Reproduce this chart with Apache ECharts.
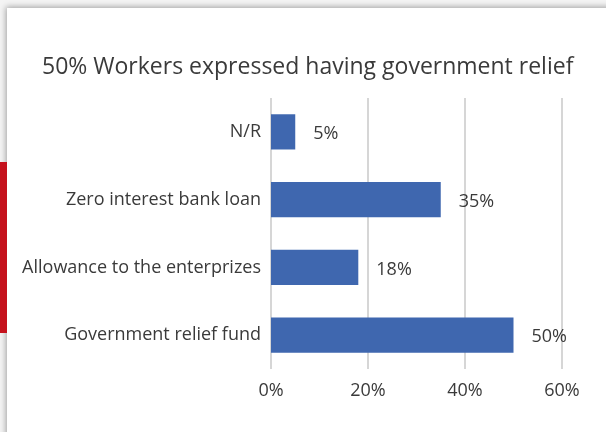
<!DOCTYPE html>
<html>
<head>
<meta charset="utf-8">
<script src="https://cdn.jsdelivr.net/npm/echarts@6/dist/echarts.min.js"></script>
<style>
  html, body { margin: 0; padding: 0; background: #ffffff; }
  #page { position: relative; width: 606px; height: 432px; overflow: hidden; background: #f4f4f4; }
  #card { position: absolute; left: 7px; top: 8px; width: 640px; height: 460px; background: #ffffff;
          box-shadow: -1px -1px 6px rgba(0,0,0,0.35); }
  #accent { position: absolute; left: 0; top: 162px; width: 7px; height: 171px; background: #c5121d; }
  #chart { position: absolute; left: 0; top: 0; width: 606px; height: 432px; }
</style>
</head>
<body>
<div id="page">
  <div id="card"></div>
  <div id="accent"></div>
  <div id="chart"></div>
</div>
<script>
// Survey answers, listed bottom to top as drawn on the category axis
const categories = ['Government relief fund', 'Allowance to the enterprizes', 'Zero interest bank loan', 'N/R'];
const shares = [50, 18, 35, 5];
const tickLabels = ['0%', '20%', '40%', '60%'];
const titleText = '50% Workers expressed having government relief';

const FONT = 'Open Sans';
const TEXT = '#3a3a3a';

const chart = echarts.init(document.getElementById('chart'), null, { renderer: 'canvas' });
chart.setOption({
  backgroundColor: 'transparent',
  animation: false,
  title: {
    text: titleText,
    left: 37, top: 51, padding: 5,
    textStyle: { fontFamily: FONT, fontSize: 23, fontWeight: 'normal', color: TEXT }
  },
  grid: { left: 271, right: 44, top: 98, bottom: 63, containLabel: false },
  xAxis: {
    type: 'value', min: 0, max: 60, interval: 20,
    axisLine: { show: false }, axisTick: { show: false },
    splitLine: { lineStyle: { color: '#c8c8c8', width: 1.5 } },
    axisLabel: {
      margin: 13, color: TEXT, fontFamily: FONT, fontSize: 18,
      formatter: v => tickLabels[Math.round(v / 20)]
    }
  },
  yAxis: {
    type: 'category', data: categories,
    axisLine: { show: false }, axisTick: { show: false },
    axisLabel: { margin: 10, color: TEXT, fontFamily: FONT, fontSize: 18 }
  },
  series: [{
    type: 'bar', data: shares, barWidth: '52%',
    itemStyle: { color: '#3f67af' },
    label: {
      show: true, position: 'right', distance: 18, offset: [0, 2],
      formatter: p => p.value + '%',
      color: TEXT, fontFamily: FONT, fontSize: 18
    }
  }]
});
</script>
</body>
</html>
